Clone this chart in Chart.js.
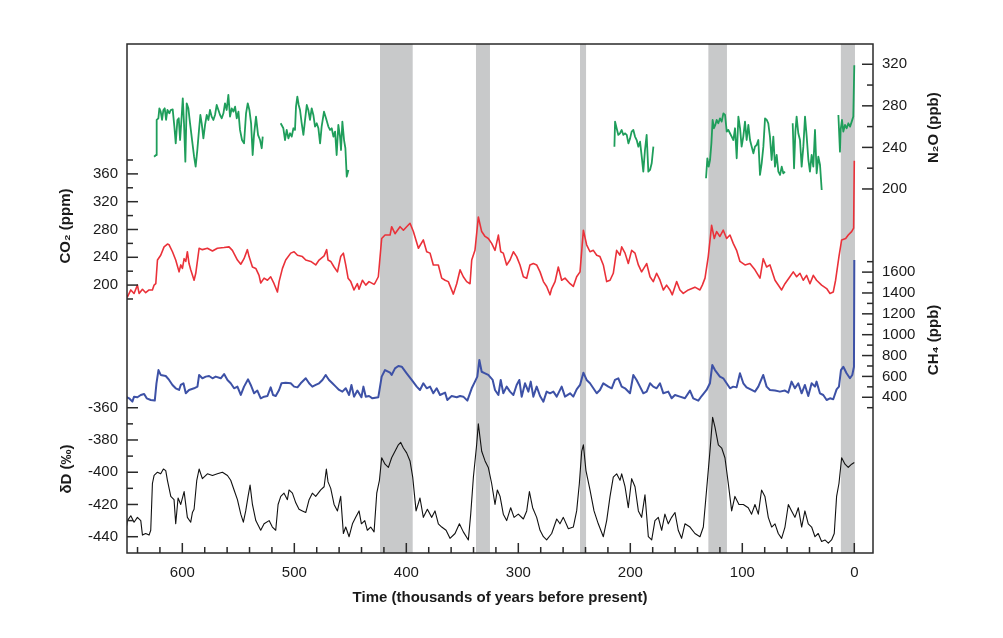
<!DOCTYPE html>
<html>
<head>
<meta charset="utf-8">
<script src="https://cdn.jsdelivr.net/npm/chart.js@4.4.1/dist/chart.umd.min.js"></script>
<style>
  body { margin: 0; background: #fff; }
  canvas { display: block; }
</style>
</head>
<body>
<canvas id="chart" width="1003" height="638"></canvas>
<script>
// [age (kyr before present), value] - null value = gap in the record
const n2o = [
    [625.2,231],[623.5,232.7],[622.9,266.4],[621.4,268],[620.5,277.6],[619.3,274.4],[618.1,266.4],[616.9,276],
    [615.7,277.6],[614.5,266.4],[613.3,276],[611.6,272.8],[610.4,276],[608.6,276.6],[607.1,260],[605.9,243.9],
    [604.4,266.4],[603.2,268],[602,247.1],[600.8,266.4],[599.6,287.2],[598.5,263.2],[597.3,226.3],[596.1,282.4],
    [594.6,277.6],[593.1,263.2],[591.3,247.1],[589.5,231.1],[588.1,221.5],[586.6,237.5],[585.1,256.8],[583.9,271.2],
    [582.7,263.2],[581.2,248.7],[579.7,261.6],[578.2,271.2],[576.7,266.4],[575.3,276],[573.8,269.6],[572.3,266.4],
    [570.8,271.2],[569.3,280.8],[567.8,276],[566.3,271.2],[564.8,268],[563.3,272.8],[561.9,282.4],[560.4,276],
    [558.9,290.5],[557.4,269.6],[555.9,277.6],[554.4,274.4],[552.9,279.2],[551.4,268],[549.9,274.4],[548.5,256.8],
    [546.7,247.1],[544.9,243.9],[543.1,272.8],[541.6,282.4],[540.1,276],[538.6,263.2],[537.2,232.7],[536,252],
    [534.2,269.6],[532.4,252],[530.6,247.1],[529.1,239.2],[528.2,250.4],[520,null],
    [512.2,263.2],[509.8,258.4],[508.3,247.1],[506.8,256.8],[505.3,248.7],[503.8,253.6],[502.3,250.4],[500.8,258.4],
    [499.4,256.8],[498.5,279.2],[497.3,288.9],[496.1,280.8],[494.9,276],[493.4,263.2],[491.9,252],[490.4,266.4],
    [488.9,280.8],[487.5,276],[486,266.4],[484.5,277.6],[483,271.2],[481.5,260],[480,263.2],[478.5,258.4],
    [477,243.9],[475.6,260],[473.5,274.4],[471.7,268],[469.6,260],[468.1,256.8],[466.6,258.4],[465.1,250.4],
    [463.6,255.2],[462.2,232.7],[460.7,261.6],[459.2,250.4],[458.3,237.5],[457.1,264.8],[455.6,247.1],[454.4,239.2],
    [453.2,211.9],[451.7,218.3],[300,null],
    [214.2,240.7],[213.6,264.8],[212.2,258.4],[210.7,252],[209.2,253.6],[207.7,256.8],[206.2,252],[204.7,253.6],
    [203.2,252],[201.7,243.9],[200.2,248.7],[198.8,255.2],[197.3,256.8],[195.8,250.4],[194.3,247.1],[192.8,240.7],
    [191.3,245.5],[189.8,231.1],[188.4,216.7],[186.9,237.5],[185.4,252],[183.9,216.7],[182.4,218.3],[180.9,224.7],
    [179.4,240.7],[150,null],
    [132.4,210.3],[131.2,229.5],[130,221.5],[128.8,227.9],[127.6,243.9],[126.5,266.4],[125.3,258.4],[124.1,261.6],
    [122.9,266.4],[121.4,263.2],[119.9,268],[118.4,264.8],[116.9,272.8],[115.4,271.2],[113.9,255.2],[112.5,256.8],
    [111,253.6],[109.5,250.4],[108,247.1],[106.5,258.4],[105,229.5],[103.5,269.6],[102,258.4],[100.6,240.7],
    [99.1,250.4],[97.6,264.8],[96.1,247.1],[94.6,261.6],[93.1,247.1],[91.6,240.7],[90.1,234.3],[88.7,240.7],
    [87.2,242.3],[85.7,247.1],[84.2,213.5],[82.7,224.7],[81.2,240.7],[79.7,268],[78.2,266.4],[76.8,263.2],
    [75.3,250.4],[73.8,227.9],[72.3,250.4],[70.8,221.5],[69.3,232.7],[67.8,216.7],[66.3,213.5],[64.8,221.5],
    [63.4,215.1],[61.9,216.7],[58,null],
    [55,263.2],[53.8,219.9],[52.6,255.2],[51.5,269.6],[50,253.6],[48.5,247.1],[47,221.5],[45.5,240.7],
    [44,269.6],[42.5,250.4],[41,227.9],[39.6,216.7],[38.1,232.7],[36.6,221.5],[35.1,256.8],[33.6,215.1],
    [32.1,231.1],[30.6,223.1],[29.1,199],[20,null],
    [14.2,271.2],[12.8,235.9],[12.2,256.8],[11,266.4],[9.8,255.2],[8.3,261.6],[6.8,258.4],[5.3,263.2],
    [3.8,260],[2.3,264.8],[0.9,269.6],[0,319]
];

const co2 = [
    [650.5,188],[649,183],[646,193],[643.1,188],[640.1,200],[638.6,188],[635.6,194],[632.7,189],[629.7,193],
    [626.7,193],[625.2,200],[623.7,202],[622.2,236],[619.3,243],[616.3,255],[613.3,259],[611.8,258],[608.8,248],
    [605.9,236],[602.9,219],[601.4,229],[599.9,224],[598.4,238],[596.9,234],[595.5,248],[594,231],[592.5,222],
    [589.5,207],[588,217],[585,253],[582.1,251],[577.6,253],[573.1,249],[568.7,253],[562.7,254],[558.3,255],
    [555.3,250],[550.8,236],[547.8,230],[544.9,238],[541.9,251],[540.4,241],[537.4,226],[534.4,224],[531.5,214],
    [530,203],[527,210],[524,207],[521.1,212],[518.1,202],[515.1,190],[513.6,205],[510.6,224],[507.7,236],
    [503.2,246],[500.2,248],[497.2,243],[492.8,241],[489.8,236],[485.3,234],[480.9,229],[477.9,236],[473.4,242],
    [471.1,251],[469.9,236],[467.5,234],[464.5,226],[461.5,219],[458.6,241],[456.2,246],[454.1,229],[452,210],
    [449.6,205],[446.7,193],[443.7,202],[442.2,194],[439.2,207],[436.2,200],[433.3,205],[428.8,201],[427.9,203],
    [425,212],[422,267],[419,272],[414.5,272],[413.1,284],[410.1,274],[405.6,284],[402.6,279],[399.7,284],
    [396.7,289],[393.7,277],[389.2,253],[384.8,265],[381.8,248],[378.8,246],[375.9,229],[371.4,229],[368.4,210],
    [365.4,207],[362.5,205],[358,187],[355,202],[352,222],[349.1,212],[346.1,205],[343.1,202],[341.6,236],
    [338.7,250],[335.7,298],[332.7,277],[329.7,270],[326.8,267],[323.8,260],[320.8,250],[317.8,272],[315.7,248],
    [313.4,246],[310.4,229],[307.4,236],[304.4,248],[301.5,241],[298.5,229],[295.5,212],[292.5,210],[289.6,229],
    [286.6,231],[283.6,229],[280.6,219],[277.6,205],[274.7,198],[271.7,186],[270.2,195],[267.2,205],[264.3,226],
    [261.3,207],[258.3,210],[253.8,202],[250.9,198],[247.9,212],[244.9,219],[241.9,279],[239,258],[236,248],
    [233,250],[230,243],[227.1,241],[224.1,229],[221.1,205],[218.1,207],[215.2,217],[212.2,250],[209.2,243],
    [207.7,255],[204.7,246],[201.8,231],[198.8,250],[195.8,246],[192.8,229],[189.9,219],[185.4,231],[182.4,212],
    [179.5,205],[176.5,217],[173.5,207],[170.5,193],[167.6,200],[164.6,193],[162.5,186],[158.6,205],[155.7,193],
    [152.7,188],[148.2,193],[142.3,197],[137.8,193],[135.7,200],[133.3,210],[130.4,241],[127.4,286],[125,267],
    [122.9,277],[120,270],[117,279],[114,267],[111,272],[108.1,260],[105.1,250],[102.1,234],[97.6,229],
    [93.2,231],[88.7,222],[84.2,210],[81.3,238],[78.3,226],[75.3,229],[70.8,207],[64.9,193],[61.9,202],
    [57.5,212],[54.5,219],[51.5,212],[48.5,217],[45.6,207],[42.6,214],[39.6,202],[36.6,214],[33.7,207],
    [29.2,200],[24.7,195],[21.7,188],[18.8,190],[16.7,207],[13.7,241],[11.3,265],[7.7,267],[5.4,272],
    [2.4,277],[0.6,282],[0,379]
];

const ch4 = [
    [650.5,406],[647.5,390],[644.6,358],[643.1,406],[640.1,400],[637.1,422],[634.1,432],[631.8,390],[628.2,374],
    [624.6,368],[623.1,534],[621.3,661],[619.3,614],[614.8,604],[611.8,566],[608.8,518],[605.9,486],[602.9,470],
    [601.4,518],[599,534],[596.9,438],[594,470],[589.5,486],[586.5,502],[585,614],[582.1,582],[579.1,598],
    [576.1,604],[573.1,582],[570.2,598],[565.7,582],[562.7,623],[559.7,566],[556.8,534],[553.8,486],[550.8,502],
    [547.8,422],[544.9,502],[541.3,572],[538.9,518],[535.9,438],[533,464],[530,390],[527,406],[524,412],
    [521.1,495],[519,422],[516.6,412],[513.6,470],[511.5,534],[507.7,540],[503.2,534],[500.2,502],[497.2,495],
    [494.3,534],[489.8,582],[486.8,534],[483.9,502],[480.9,518],[477.9,534],[474.9,566],[472,614],[469,566],
    [466,534],[463,502],[460,470],[457.1,454],[454.1,486],[451.1,422],[449,518],[446.7,406],[443.7,464],
    [440.1,400],[438.3,502],[436.2,406],[433.3,412],[430.3,390],[425,400],[422,598],[419,661],[414.5,636],
    [413.1,614],[410.1,677],[407.1,700],[404.1,693],[399.7,630],[395.2,566],[390.7,502],[387.8,470],[384.8,534],
    [381.8,486],[378.8,502],[375.9,438],[372.9,486],[369.9,422],[365.4,445],[363.4,374],[359.5,412],[355,400],
    [352,412],[349.1,406],[345.5,368],[341.6,486],[338.7,550],[336.6,598],[334.8,757],[332.7,645],[329.7,630],
    [326.8,614],[322.9,566],[320.8,470],[317.8,422],[315.7,566],[313.4,438],[310.4,502],[307.4,454],[304.4,422],
    [301.5,518],[299.1,566],[297,406],[294,534],[291,454],[288.9,550],[286.6,406],[283.6,502],[280.6,412],
    [277.6,358],[274.7,454],[271.7,438],[268.7,454],[265.7,406],[261.3,502],[258.3,406],[253.8,438],[250.9,406],
    [247.9,476],[244.9,518],[241.9,636],[239,566],[236,534],[233,486],[230,438],[227.1,470],[224.1,534],
    [219.6,502],[216.6,486],[213.7,566],[210.7,582],[207.7,502],[204.7,486],[200.3,438],[197.3,614],[194.4,566],
    [191.4,502],[188.4,438],[185.4,454],[182.4,534],[179.5,502],[176.5,486],[173.5,534],[170.5,438],[166.1,454],
    [163.1,390],[160.1,422],[155.7,406],[151.2,390],[146.7,464],[143.8,390],[139.3,368],[136.3,412],[131.9,470],
    [128.9,534],[126.8,709],[124.4,661],[120,598],[117,582],[114,534],[111,486],[108.1,502],[105.1,495],
    [102.1,630],[99.1,534],[96.2,495],[91.7,470],[88.7,454],[85.7,502],[81.3,614],[78.3,502],[75.3,470],
    [70.8,464],[66.4,454],[61.9,464],[58.9,445],[56,550],[53,486],[50,534],[47,438],[44.1,518],
    [41.1,412],[38.1,534],[35.1,502],[33.7,550],[30.7,438],[27.7,422],[24.7,374],[21.7,390],[18.8,381],
    [15.8,476],[13.7,502],[11.9,661],[9.8,693],[6.9,630],[3.9,582],[1.8,614],[0.3,693],[0,1715]
];

const deltaD = [
    [650.5,-436],[649,-430],[646,-427],[643.1,-431],[640.1,-428],[637.1,-430],[635.6,-439],[632.7,-438],[629.7,-439],
    [628.2,-436],[626.7,-407],[625.2,-402],[622.2,-400],[619.3,-401],[616.9,-398],[614.8,-399],[613.3,-405],[610.3,-415],
    [607.4,-417],[605.9,-432],[603.8,-416],[601.4,-420],[598.4,-412],[595.5,-428],[592.5,-431],[591,-425],[589.5,-423],
    [587.1,-405],[585,-398],[582.1,-404],[577.6,-401],[573.1,-402],[568.7,-401],[564.2,-400],[559.7,-402],[556.8,-405],
    [553.8,-411],[550.8,-417],[547.8,-426],[545.5,-431],[543.4,-424],[541.3,-415],[539.5,-408],[537.4,-420],[534.4,-430],
    [530,-436],[527,-432],[522.5,-430],[519.6,-434],[516.6,-436],[514.5,-420],[512.1,-415],[509.2,-413],[506.2,-417],
    [504.7,-411],[501.7,-413],[498.7,-419],[495.8,-423],[492.8,-424],[489.8,-425],[486.8,-417],[483.9,-413],[480.9,-415],
    [476.4,-411],[473.4,-409],[471.4,-398],[469.9,-406],[467.5,-410],[464.5,-420],[461.5,-424],[458.6,-415],[456.2,-438],
    [454.1,-434],[451.1,-440],[448.1,-432],[445.2,-428],[442.2,-424],[440.1,-432],[437.1,-430],[434.8,-436],[431.8,-434],
    [428.8,-437],[426.4,-413],[424,-405],[422,-391],[419,-395],[416,-397],[413.1,-391],[410.1,-387],[407.1,-383],
    [405,-381.5],[402.6,-385],[399.7,-388],[396.7,-393],[394.3,-403],[391.3,-424],[387.8,-416],[384.8,-428],[381.2,-423],
    [377.3,-428],[374.4,-424],[371.4,-432],[368.4,-434],[364.5,-436],[361,-441],[356.5,-438],[352.6,-432],[349.1,-437],
    [344.6,-442],[342.5,-426],[340.1,-403],[337.2,-383],[335.7,-370],[332.7,-387],[329.7,-393],[326.8,-397],[323.8,-407],
    [320.8,-420],[318.7,-411],[316.3,-415],[313.4,-426],[310.4,-430],[306.8,-422],[303.8,-428],[300,-426],[295.5,-429],
    [292.5,-424],[290.1,-412],[287.2,-422],[283.6,-428],[280.6,-436],[277.6,-440],[274.7,-442],[270.2,-438],[265.7,-429],
    [262.8,-432],[259.8,-428],[255.3,-435],[250.9,-434],[247.9,-424],[245.5,-407],[243.4,-387],[241.9,-383],[239.6,-399],
    [236,-411],[232.4,-424],[228.6,-432],[224.1,-440],[221.1,-430],[218.1,-415],[215.2,-403],[212.2,-401],[209.2,-405],
    [207.7,-401],[204.7,-409],[201.8,-422],[198.8,-404],[195.8,-409],[192.8,-424],[189.9,-428],[186.9,-414],[183.9,-440],
    [180.9,-442],[178,-430],[175,-428],[172,-436],[169.1,-426],[166.1,-432],[163.1,-428],[160.1,-425],[157.2,-436],
    [154.2,-441],[151.2,-432],[146.7,-434],[142.3,-438],[137.8,-440],[134.8,-434],[131.9,-411],[128.9,-387],[126.5,-366],
    [124.4,-372],[121.4,-383],[118.4,-385],[115.5,-391],[112.5,-407],[109.5,-424],[106.6,-415],[103,-420],[99.1,-420],
    [94.7,-422],[91.7,-426],[88.7,-420],[85.7,-426],[82.8,-411],[79.8,-415],[76.8,-428],[73.8,-434],[70.8,-432],
    [67.9,-438],[64.9,-441],[61.9,-434],[58.9,-420],[56,-424],[53,-428],[50,-422],[47,-434],[44.1,-424],
    [41.1,-432],[38.1,-434],[35.1,-440],[32.2,-438],[29.2,-443],[26.2,-442],[23.2,-444],[20.3,-442],[17.9,-438],
    [15.8,-415],[13.7,-407],[11.3,-391],[8.3,-395],[5.4,-397],[2.4,-395],[0,-394]
];

// shaded interglacial periods, [from, to] in kyr
const warmBands = [[423.5, 394.3], [337.8, 325.3], [244.9, 239.5], [130.3, 113.7], [12, -0.6]];

// tick positions and the ones that carry a label
const timeTicks = [0,20,40,60,80,100,120,140,160,180,200,220,240,260,280,300,320,340,360,380,400,420,440,460,480,500,520,540,560,580,600,620,640];
const timeLabels = [0,100,200,300,400,500,600];
const co2Ticks = [180,200,220,240,260,280,300,320,340,360,380];
const co2Labels = [200,240,280,320,360];
const dDTicks = [-440,-430,-420,-410,-400,-390,-380,-370,-360];
const dDLabels = [-440,-420,-400,-380,-360];
const n2oTicks = [200,220,240,260,280,300,320];
const n2oLabels = [200,240,280,320];
const ch4Ticks = [300,400,500,600,700,800,900,1000,1100,1200,1300,1400,1500,1600,1700];
const ch4Labels = [400,600,800,1000,1200,1400,1600];

const FONT = '"Liberation Sans", Arial, Helvetica, sans-serif';
Chart.defaults.font.family = FONT;
Chart.defaults.font.size = 15;
Chart.defaults.color = '#1a1a1a';

function toPoints(rows) {
    return rows.map(([age, v]) => ({ x: age, y: v }));
}

function fixedTicks(values) {
    return axis => { axis.ticks = values.map(v => ({ value: v })); };
}

function yScale(position, weight, min, max, ticks, labels, width) {
    return {
        type: 'linear',
        position: position,
        weight: weight,
        min: min,
        max: max,
        afterBuildTicks: fixedTicks(ticks),
        afterFit: axis => { axis.width = width; },
        grid: { display: false, drawTicks: false },
        border: { display: false },
        ticks: {
            autoSkip: false,
            padding: 9,
            callback: v => labels.includes(v) ? String(v) : ''
        }
    };
}

// grey bands, frame, inward tick marks and axis titles
const decorations = {
    id: 'decorations',
    afterLayout(chart) {
        // the second axis on each side takes no room, but its labels
        // must not be clipped to a zero-width box
        const s = chart.scales;
        s.yD.left = s.yCO2.left;
        s.yCH4.right = s.yN2O.right;
    },
    beforeDatasetsDraw(chart) {
        const { ctx, chartArea: a, scales: { x } } = chart;
        ctx.save();
        ctx.fillStyle = '#c8c9ca';
        warmBands.forEach(([from, to]) => {
            const x1 = x.getPixelForValue(from);
            const x2 = x.getPixelForValue(to);
            ctx.fillRect(x1, a.top, x2 - x1, a.bottom - a.top);
        });
        ctx.restore();
    },
    afterDraw(chart) {
        const { ctx, chartArea: a, scales } = chart;
        ctx.save();
        ctx.strokeStyle = '#2a2a2a';
        ctx.lineWidth = 1.5;
        ctx.strokeRect(a.left, a.top, a.right - a.left, a.bottom - a.top);

        const line = (x1, y1, x2, y2) => {
            ctx.beginPath();
            ctx.moveTo(x1, y1);
            ctx.lineTo(x2, y2);
            ctx.stroke();
        };
        const sideTicks = (scale, labels, edge, dir) => {
            scale.ticks.forEach(t => {
                const y = scale.getPixelForValue(t.value);
                line(edge, y, edge + dir * (labels.includes(t.value) ? 11 : 6), y);
            });
        };
        sideTicks(scales.yCO2, co2Labels, a.left, 1);
        sideTicks(scales.yD, dDLabels, a.left, 1);
        sideTicks(scales.yN2O, n2oLabels, a.right, -1);
        sideTicks(scales.yCH4, ch4Labels, a.right, -1);
        scales.x.ticks.forEach(t => {
            const x = scales.x.getPixelForValue(t.value);
            line(x, a.bottom, x, a.bottom - (timeLabels.includes(t.value) ? 10 : 6));
        });

        ctx.fillStyle = '#1a1a1a';
        ctx.font = 'bold 15px ' + FONT;
        ctx.textAlign = 'center';
        ctx.textBaseline = 'middle';
        const vTitle = (text, x, y) => {
            ctx.save();
            ctx.translate(x, y);
            ctx.rotate(-Math.PI / 2);
            ctx.fillText(text, 0, 0);
            ctx.restore();
        };
        vTitle('CO\u2082 (ppm)', 66, scales.yCO2.getPixelForValue(285));
        vTitle('\u03b4D (\u2030)', 67, scales.yD.getPixelForValue(-398));
        vTitle('N\u2082O (ppb)', 934, scales.yN2O.getPixelForValue(259));
        vTitle('CH\u2084 (ppb)', 934, scales.yCH4.getPixelForValue(950));
        ctx.fillText('Time (thousands of years before present)', (a.left + a.right) / 2, 598);
        ctx.restore();
    }
};

const ctx = document.getElementById('chart').getContext('2d');
new Chart(ctx, {
    type: 'line',
    data: {
        datasets: [
            { label: 'N2O', data: toPoints(n2o), yAxisID: 'yN2O', borderColor: '#1f9e5b', borderWidth: 1.8 },
            { label: 'CO2', data: toPoints(co2), yAxisID: 'yCO2', borderColor: '#ea3139', borderWidth: 1.6 },
            { label: 'CH4', data: toPoints(ch4), yAxisID: 'yCH4', borderColor: '#3d51a6', borderWidth: 2 },
            { label: 'dD', data: toPoints(deltaD), yAxisID: 'yD', borderColor: '#111111', borderWidth: 1.1 }
        ]
    },
    options: {
        responsive: false,
        animation: false,
        spanGaps: false,
        layout: { padding: { top: 44 } },
        elements: { point: { radius: 0 }, line: { tension: 0, borderJoinStyle: 'round' } },
        plugins: { legend: { display: false }, tooltip: { enabled: false } },
        scales: {
            x: {
                type: 'linear',
                position: 'bottom',
                reverse: true,
                min: -16.7,
                max: 649.4,
                afterBuildTicks: fixedTicks(timeTicks),
                afterFit: axis => { axis.height = 85; },
                grid: { display: false, drawTicks: false },
                border: { display: false },
                ticks: {
                    autoSkip: false,
                    maxRotation: 0,
                    padding: 11,
                    callback: v => timeLabels.includes(v) ? String(v) : ''
                }
            },
            yCO2: yScale('left', 1, -185.5, 546.9, co2Ticks, co2Labels, 127),
            yD: yScale('left', 0, -450.1, -134.4, dDTicks, dDLabels, 0),
            yN2O: yScale('right', 1, -150.3, 339.5, n2oTicks, n2oLabels, 130),
            yCH4: yScale('right', 0, -1093, 3787, ch4Ticks, ch4Labels, 0)
        }
    },
    plugins: [decorations]
});
</script>
</body>
</html>
